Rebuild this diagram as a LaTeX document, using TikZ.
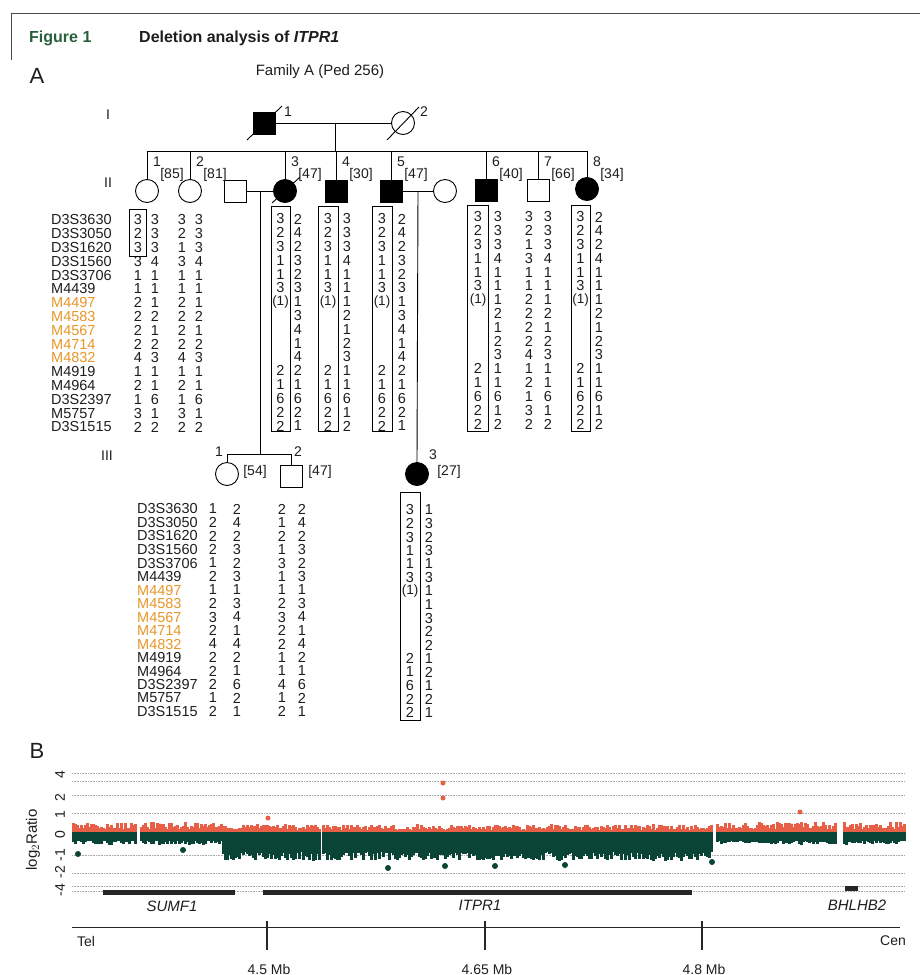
\documentclass[tikz,border=0pt]{standalone}
\usepackage{fontspec}
\setmainfont{Liberation Sans}
\definecolor{figgreen}{RGB}{40,95,60}
\definecolor{mkorange}{RGB}{232,150,40}
\definecolor{datared}{RGB}{232,95,72}
\definecolor{datagreen}{RGB}{10,68,55}
\definecolor{txtgray}{RGB}{30,30,30}
\newcommand\hapfont{\fontsize{14.5}{14.5}\selectfont}
\newcommand\labfont{\fontsize{14}{14}\selectfont}
\newcommand\pone{{\fontsize{13.5}{13.5}\selectfont(1)}}
% id, x, y0, dy, list
\newcommand\hapcol[5]{%
  \foreach \v [count=\i from 0] in {#5} {\node[hap] (#1-\i) at (#2,{#3+\i*#4}) {\v};}}
\newcommand\markercol[4]{%
  \foreach \m [count=\i from 0] in {D3S3630,D3S3050,D3S1620,D3S1560,D3S3706,M4439,M4497,M4583,M4567,M4714,M4832,M4919,M4964,D3S2397,M5757,D3S1515} {%
    \ifnum\i>5 \ifnum\i<11 \def\mc{mkorange}\else\def\mc{txtgray}\fi\else\def\mc{txtgray}\fi
    \node[mk,text=\mc] (#1-\i) at (#2,{#3+\i*#4}) {\m};}}
\tikzset{
  pl/.style={line width=0.9pt, draw=black},
  male/.style={rectangle, draw, line width=0.9pt, minimum size=22pt, inner sep=0pt, fill=white},
  female/.style={circle, draw, line width=0.9pt, minimum size=23pt, inner sep=0pt, fill=white},
  aff/.style={fill=black},
  hap/.style={font=\hapfont, inner sep=0pt, text=txtgray},
  mk/.style={font=\hapfont, inner sep=0pt, anchor=west},
  num/.style={font=\labfont, inner sep=0pt, text=txtgray},
  hbox/.style={rectangle, draw, line width=0.9pt, inner sep=0pt},
  gridl/.style={densely dotted, draw=gray!70, line width=0.6pt},
  gen/.style={font=\labfont, inner sep=0pt, text=txtgray},
  gene/.style={font=\fontsize{15}{15}\selectfont\itshape, text=txtgray, inner sep=0pt},
}
\begin{document}
\begin{tikzpicture}[x=1pt,y=-1pt]
\useasboundingbox (0,0) rectangle (920,975);
\fill[white] (0,0) rectangle (920,975);
% frame
\draw[line width=1pt, gray!60!black] (11,60) -- (11,13) -- (920,13);
\node[anchor=west, font=\fontsize{16}{16}\selectfont\bfseries, text=figgreen, inner sep=0pt] (figlab) at (29,38) {Figure 1};
\node[anchor=west, font=\fontsize{16}{16}\selectfont\bfseries, text=txtgray, inner sep=0pt] (figtitle) at (139,38) {Deletion analysis of \textit{ITPR1}};
\node[font=\fontsize{22}{22}\selectfont, text=txtgray, inner sep=0pt] (panA) at (37,76) {A};
\node[font=\fontsize{15}{15}\selectfont, text=txtgray, inner sep=0pt] (famA) at (320,72) {Family A (Ped 256)};
% generation labels
\node[gen] (gI) at (108,115) {I};
\node[gen] (gII) at (108,183) {II};
\node[gen] (gIII) at (107,456) {III};
% ---------- generation I
\node[male,aff] (I1) at (264,123) {};
\node[female] (I2) at (403,123) {};
\draw[pl] (I1.east) -- (I2.west);
\draw[pl] (I1.center) ++(-17,17) -- ++(35,-34);
\draw[pl] (I2.center) ++(-16,17) -- ++(32,-33);
\node[num] (I1n) at (288,112) {1};
\node[num] (I2n) at (424,112) {2};
\coordinate (m1) at (335,123);
\coordinate (sib2) at (335,151);
\draw[pl] (m1) -- (sib2);
% ---------- generation II
\node[female] (II1) at (147,191) {};
\node[female] (II2) at (190,191) {};
\node[male] (II3s) at (235,191) {};
\node[female,aff] (II3) at (285,191) {};
\node[male,aff] (II4) at (336,191) {};
\node[male,aff] (II5) at (391,191) {};
\node[female] (II5s) at (445,191) {};
\node[male,aff] (II6) at (486,190) {};
\node[male] (II7) at (538,190) {};
\node[female,aff] (II8) at (587,189) {};
\draw[pl] (II1.north |- sib2) -- (II8.north |- sib2);
\foreach \c in {II1,II2,II3,II4,II5,II6,II7,II8} \draw[pl] (\c.north) -- (\c.north |- sib2);
\draw[pl] (II3.center) ++(-13,12) -- ++(28,-26);
\draw[pl] (II3s.east) -- (II3.west);
\draw[pl] (II5.east) -- (II5s.west);
\foreach \c/\t/\a in {II1/1/85,II2/2/81,II3/3/47,II4/4/30,II5/5/47,II6/6/40,II7/7/66,II8/8/34}{
  \node[num] (\c n) at ([xshift=10pt]\c.center |- 0,162) {\t};
  \node[num] (\c a) at ([xshift=25pt]\c.center |- 0,175) {[\a]};
}
% marriage descent lines
\coordinate (m2) at (260,191);
\coordinate (m3) at (418,191);
\coordinate (sib3) at (260,454);
\draw[pl] (m2) -- (sib3);
% ---------- generation III
\node[female] (III1) at (227,474) {};
\node[male] (III2) at (291,476) {};
\node[female,aff] (III3) at (417,474) {};
\draw[pl] (III1.north |- sib3) -- (III2.north |- sib3);
\draw[pl] (III1.north) -- (III1.north |- sib3);
\draw[pl] (III2.north) -- (III2.north |- sib3);
\draw[pl] (m3) -- (III3.north);
\node[num] (III1n) at (219,452) {1};
\node[num] (III1a) at (255,472) {[54]};
\node[num] (III2n) at (298,452) {2};
\node[num] (III2a) at (320,472) {[47]};
\node[num] (III3n) at (433,455) {3};
\node[num] (III3a) at (449,472) {[27]};
% ---------- haplotypes generation II
\markercol{mkII}{51}{220}{13.8}
\hapcol{h1a}{138}{220}{13.8}{3,2,3,3,1,1,2,2,2,2,4,1,2,1,3,2}
\hapcol{h1b}{155}{220}{13.8}{3,3,3,4,1,1,1,2,1,2,3,1,1,6,1,2}
\hapcol{h2a}{182}{220}{13.8}{3,2,1,3,1,1,2,2,2,2,4,1,2,1,3,2}
\hapcol{h2b}{199}{220}{13.8}{3,3,3,4,1,1,1,2,1,2,3,1,1,6,1,2}
\node[hbox, minimum width=17pt, minimum height=47pt] (b1) at (138,233) {};
\hapcol{h3a}{280.5}{219}{13.8}{3,2,3,1,1,3,\pone,{},{},{},{},2,1,6,2,2}
\hapcol{h3b}{298}{219}{13.8}{2,4,2,3,2,3,1,3,4,1,4,2,1,6,2,1}
\node[hbox, minimum width=19pt, minimum height=225pt] (b3) at (280.5,319) {};
\hapcol{h4a}{328}{219}{13.8}{3,2,3,1,1,3,\pone,{},{},{},{},2,1,6,2,2}
\hapcol{h4b}{347}{219}{13.8}{3,3,3,4,1,1,1,2,1,2,3,1,1,6,1,2}
\node[hbox, minimum width=20pt, minimum height=225pt] (b4) at (328,319) {};
\hapcol{h5a}{382}{219}{13.8}{3,2,3,1,1,3,\pone,{},{},{},{},2,1,6,2,2}
\hapcol{h5b}{402}{219}{13.8}{2,4,2,3,2,3,1,3,4,1,4,2,1,6,2,1}
\node[hbox, minimum width=20pt, minimum height=225pt] (b5) at (382,319) {};
\hapcol{h6a}{478}{217}{13.8}{3,2,3,1,1,3,\pone,{},{},{},{},2,1,6,2,2}
\hapcol{h6b}{498}{217}{13.8}{3,3,3,4,1,1,1,2,1,2,3,1,1,6,1,2}
\node[hbox, minimum width=21pt, minimum height=226pt] (b6) at (478,318) {};
\hapcol{h7a}{529}{217}{13.8}{3,2,1,3,1,1,2,2,2,2,4,1,2,1,3,2}
\hapcol{h7b}{548}{217}{13.8}{3,3,3,4,1,1,1,2,1,2,3,1,1,6,1,2}
\hapcol{h8a}{580.5}{217}{13.8}{3,2,3,1,1,3,\pone,{},{},{},{},2,1,6,2,2}
\hapcol{h8b}{599}{217}{13.8}{2,4,2,4,1,1,1,2,1,2,3,1,1,6,1,2}
\node[hbox, minimum width=19pt, minimum height=226pt] (b8) at (580.5,318) {};
% ---------- haplotypes generation III
\markercol{mkIII}{137}{509}{13.5}
\hapcol{k1a}{213}{509}{13.5}{1,2,2,2,1,2,1,2,3,2,4,2,2,2,1,2}
\hapcol{k1b}{237}{509}{13.5}{2,4,2,3,2,3,1,3,4,1,4,2,1,6,2,1}
\hapcol{k2a}{282}{509}{13.5}{2,1,2,1,3,1,1,2,3,2,2,1,1,4,1,2}
\hapcol{k2b}{302}{509}{13.5}{2,4,2,3,2,3,1,3,4,1,4,2,1,6,2,1}
\hapcol{k3a}{410}{510}{13.5}{3,2,3,1,1,3,\pone,{},{},{},{},2,1,6,2,2}
\hapcol{k3b}{429}{510}{13.5}{1,3,2,3,1,3,1,1,3,2,2,1,2,1,2,1}
\node[hbox, minimum width=20pt, minimum height=228pt] (b9) at (410,606) {};
% ---------- panel B
\node[font=\fontsize{22}{22}\selectfont, text=txtgray, inner sep=0pt] (panB) at (37,751) {B};
\foreach \y in {773,781,795,813,855,873,886,891} \draw[gridl] (72,\y) -- (905,\y);
\pgfmathsetseed{17}
\foreach \a/\b/\up/\dn in {72/134/10/11, 140/220/10/11, 222/318/8/25, 322/710/8/25, 716/834/10/11, 843/903/10/11}{
  \pgfmathtruncatemacro\aa{\a+2}
  \foreach \x in {\a,\aa,...,\b}{
    \pgfmathsetmacro\hr{\up*(0.5+0.7*rnd)}
    \pgfmathsetmacro\hg{\dn*(0.8+0.35*rnd)}
    \fill[datared] (\x,834) rectangle ++(2.6,-\hr);
    \fill[datagreen] (\x,832) rectangle ++(2.6,\hg);
  }
}
\foreach \p in {(443,783),(443,798),(800,812),(160,826),(268,818)} \fill[datared] \p circle (2.5);
\foreach \p in {(78,854),(388,868),(445,866),(495,866),(565,865),(183,850),(712,862)} \fill[datagreen] \p circle (3);
% y axis labels
\foreach \t/\y in {4/775,2/798,1/815,0/835,-1/855,-2/872,-4/890}
  \node[num, rotate=90] (yl\y) at (60,\y) {\t};
\node[font=\fontsize{15}{15}\selectfont, text=txtgray, inner sep=0pt, rotate=90] (ylab) at (33,840) {log$_2$Ratio};
% genes
\fill[black!85] (103,890) rectangle (235,895);
\fill[black!85] (263,890) rectangle (692,895);
\fill[black!85] (845,886) rectangle (858,891);
\node[gene] (gSUMF1) at (172,906) {SUMF1};
\node[gene] (gITPR1) at (480,905) {ITPR1};
\node[gene] (gBHLHB2) at (857,905) {BHLHB2};
% chromosome axis
\coordinate (tel) at (72,927);
\coordinate (cen) at (900,927);
\draw[line width=1pt, black!85] (tel) -- (cen);
\foreach \x/\l in {267/4.5,485/4.65,702/4.8}{
  \draw[line width=2pt, black!85] (\x,921) -- (\x,950);
  \node[num] (mb\x) at (\x+2,969) {\l\ Mb};
}
\node[num] (telL) at (86,941) {Tel};
\node[num] (cenL) at (893,941) {Cen};
\end{tikzpicture}
\end{document}
